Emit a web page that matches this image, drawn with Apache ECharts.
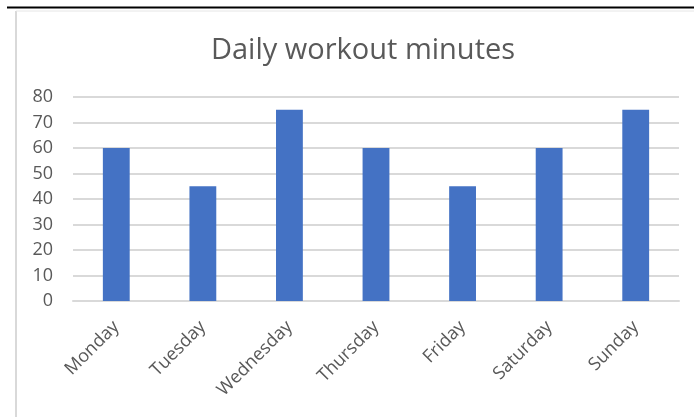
<!DOCTYPE html>
<html>
<head>
<meta charset="utf-8">
<script src="https://cdn.jsdelivr.net/npm/echarts@6/dist/echarts.min.js"></script>
<style>
  html, body { margin: 0; padding: 0; background: #fff; }
  #main { width: 694px; height: 417px; }
</style>
</head>
<body>
<div id="main"></div>
<script>
// 类目
const days = ['Monday', 'Tuesday', 'Wednesday', 'Thursday', 'Friday', 'Saturday', 'Sunday']
// 每天锻炼分钟数
const minutes = [60, 45, 75, 60, 45, 60, 75]

const chart = echarts.init(document.getElementById('main'), null, { renderer: 'canvas' })

const option = {
  backgroundColor: '#ffffff',
  animation: false,
  title: {
    text: 'Daily workout minutes',
    left: 358,
    top: 31,
    textAlign: 'center',
    textStyle: {
      fontFamily: 'Open Sans',
      fontWeight: 'normal',
      fontSize: 29,
      color: '#595959'
    }
  },
  // 边框
  graphic: [
    { type: 'line', shape: { x1: 7, y1: 7.5, x2: 694, y2: 7.5 }, style: { stroke: '#000', lineWidth: 2 } },
    { type: 'line', shape: { x1: 16, y1: 11, x2: 16, y2: 417 }, style: { stroke: '#d9d9d9', lineWidth: 2 } },
    { type: 'line', shape: { x1: 16, y1: 11, x2: 694, y2: 11 }, style: { stroke: '#e6e6e6', lineWidth: 1 } }
  ],
  grid: {
    left: 73,
    right: 15,
    top: 97,
    bottom: 116
  },
  xAxis: {
    type: 'category',
    data: days,
    axisLine: { lineStyle: { color: '#d9d9d9', width: 2 } },
    axisTick: { show: false },
    axisLabel: {
      rotate: 45,
      margin: 23,
      interval: 0,
      fontFamily: 'Open Sans',
      fontSize: 18,
      color: '#595959'
    }
  },
  yAxis: {
    type: 'value',
    min: 0,
    max: 80,
    interval: 10,
    axisLine: { show: false },
    axisTick: { show: false },
    axisLabel: {
      margin: 20,
      fontFamily: 'Open Sans',
      fontSize: 18,
      color: '#595959'
    },
    splitLine: { lineStyle: { color: '#d9d9d9', width: 2 } }
  },
  series: [{
    type: 'bar',
    data: minutes,
    barWidth: '31%',
    itemStyle: { color: '#4472C4' }
  }]
}

chart.setOption(option)
</script>
</body>
</html>
